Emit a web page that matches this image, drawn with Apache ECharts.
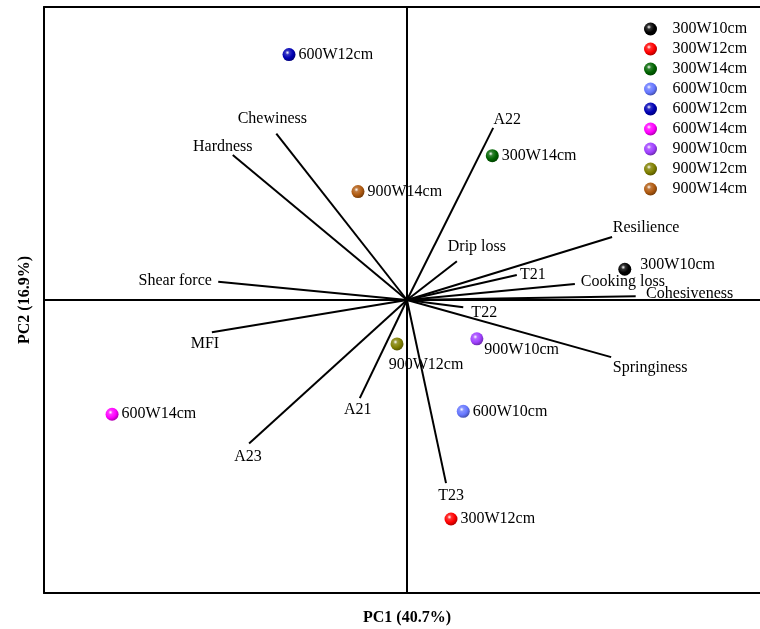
<!DOCTYPE html>
<html>
<head>
<meta charset="utf-8">
<script src="https://cdn.jsdelivr.net/npm/echarts@6/dist/echarts.min.js"></script>
<style>html,body{margin:0;padding:0;background:#fff;}#c{width:760px;height:629px;}</style>
</head>
<body>
<div id="c"></div>
<script>
// ---- data ----
var sampleNames = ['300W10cm','300W12cm','300W14cm','600W10cm','600W12cm','600W14cm','900W10cm','900W12cm','900W14cm'];
var sampleX = [2.40, 0.485, 0.94, 0.62, -1.30, -3.25, 0.77, -0.11, -0.54];
var sampleY = [0.42, -2.99, 1.97, -1.52, 3.35, -1.56, -0.53, -0.60, 1.48];

var varNames = ['Chewiness','Hardness','Shear force','MFI','A23','A21','T23','T22','Springiness','Cohesiveness','Cooking loss','T21','Resilience','Drip loss','A22'];
var varX = [-1.44, -1.92, -2.08, -2.15, -1.74, -0.52, 0.43, 0.62, 2.25, 2.52, 1.85, 1.21, 2.26, 0.55, 0.95];
var varY = [2.27, 1.98, 0.25, -0.44, -1.96, -1.34, -2.50, -0.10, -0.78, 0.05, 0.22, 0.34, 0.86, 0.53, 2.35];

var xRange = [-4, 3.89];
var yRange = [-4, 4];
var xTitle = 'PC1 (40.7%)';
var yTitle = 'PC2 (16.9%)';

// ---- styles ----
var sampleColors = ['#000000','#ff0000','#006400','#6677ff','#0000b4','#ff00ff','#a040ff','#808000','#b05a10'];
var sampleLabelOffset = {
  '300W10cm':[6,-4], '900W10cm':[-2,11]
};
var sampleLabelBottom = {'900W12cm':[29,3]};
var varLabelOffset = {
  'Chewiness':[-4,-15],'Hardness':[-10,-8],'Shear force':[-43,-1],'MFI':[-7,12],'A23':[-1,13],
  'A21':[-2,12],'T23':[5,13],'T22':[21,5],'Springiness':[39,11],'Cohesiveness':[54,-3],
  'Cooking loss':[48,-2],'T21':[16,0],'Resilience':[34,-9],'Drip loss':[20,-14],'A22':[14,-8]
};
var FONT = 'Liberation Serif';

function lighten(hex, f){
  var r=parseInt(hex.substr(1,2),16),g=parseInt(hex.substr(3,2),16),b=parseInt(hex.substr(5,2),16);
  r=Math.round(r+(255-r)*f);g=Math.round(g+(255-g)*f);b=Math.round(b+(255-b)*f);
  return 'rgb('+r+','+g+','+b+')';
}
function darken(hex, f){
  var r=parseInt(hex.substr(1,2),16),g=parseInt(hex.substr(3,2),16),b=parseInt(hex.substr(5,2),16);
  r=Math.round(r*(1-f));g=Math.round(g*(1-f));b=Math.round(b*(1-f));
  return 'rgb('+r+','+g+','+b+')';
}
function sphere(hex){
  return {type:'radial',x:0.38,y:0.35,r:0.65,colorStops:[
    {offset:0,color:'#ffffff'},
    {offset:0.25,color:lighten(hex,0.2)},
    {offset:0.65,color:hex},
    {offset:1,color:darken(hex,0.3)}
  ]};
}

var series = [];
// loading vectors (+ zero cross lines via markLine)
varNames.forEach(function(n,i){
  var s = {
    type:'line', name:'_v'+i, data:[[0,0],[varX[i],varY[i]]],
    symbol:'none', silent:true, z:2,
    lineStyle:{color:'#000',width:2}
  };
  if (i === 0) {
    s.markLine = {silent:true, symbol:'none', label:{show:false},
      lineStyle:{color:'#000', width:2, type:'solid'},
      data:[{xAxis:0},{yAxis:0}]};
  }
  series.push(s);
});
// loading labels
series.push({
  type:'scatter', name:'_vl', symbolSize:0, silent:true, z:3,
  itemStyle:{opacity:1},
  data: varNames.map(function(n,i){
    return {value:[varX[i],varY[i]], name:n,
      label:{show:true, position:'inside', formatter:n, offset:varLabelOffset[n]||[0,0],
        color:'#000', opacity:1, fontFamily:FONT, fontSize:16}};
  })
});
// sample points
sampleNames.forEach(function(n,i){
  var lab = {show:true, position:'right', distance:3, formatter:n, color:'#000', opacity:1, fontFamily:FONT, fontSize:16};
  if (sampleLabelOffset[n]) lab.offset = sampleLabelOffset[n];
  if (sampleLabelBottom[n]) { lab.position='bottom'; lab.offset = sampleLabelBottom[n]; }
  series.push({
    type:'scatter', name:n, symbol:'circle', symbolSize:13, z:5,
    itemStyle:{color:sphere(sampleColors[i]), opacity:1},
    data:[{value:[sampleX[i],sampleY[i]], label:lab}]
  });
});

var axisCommon = {type:'value', splitLine:{show:false}, axisTick:{show:false}, axisLabel:{show:false}};
var chart = echarts.init(document.getElementById('c'), null, {renderer:'canvas'});
chart.setOption({
  animation:false,
  backgroundColor:'#fff',
  grid:{left:44, right:0, top:7, bottom:36, show:false},
  xAxis:[
    Object.assign({}, axisCommon, {min:xRange[0], max:xRange[1], position:'bottom',
      axisLine:{show:true, onZero:false, lineStyle:{color:'#000',width:2}}}),
    Object.assign({}, axisCommon, {min:xRange[0], max:xRange[1], position:'top',
      axisLine:{show:true, onZero:false, lineStyle:{color:'#000',width:2}}})
  ],
  yAxis:[
    Object.assign({}, axisCommon, {min:yRange[0], max:yRange[1], position:'left',
      axisLine:{show:true, onZero:false, lineStyle:{color:'#000',width:2}}})
  ],
  legend:{
    data: sampleNames, orient:'vertical', left:639, top:16, itemGap:4,
    itemWidth:34, itemHeight:13, icon:'circle',
    textStyle:{fontFamily:FONT, fontSize:16, color:'#000'}
  },
  graphic:[
    {type:'text', x:407, y:618, style:{text:xTitle, font:'bold 16px "Liberation Serif"', fill:'#000', align:'center', verticalAlign:'middle'}},
    {type:'text', x:25, y:300, rotation:Math.PI/2, style:{text:yTitle, font:'bold 16px "Liberation Serif"', fill:'#000', align:'center', verticalAlign:'middle'}}
  ],
  series: series
});
</script>
</body>
</html>
